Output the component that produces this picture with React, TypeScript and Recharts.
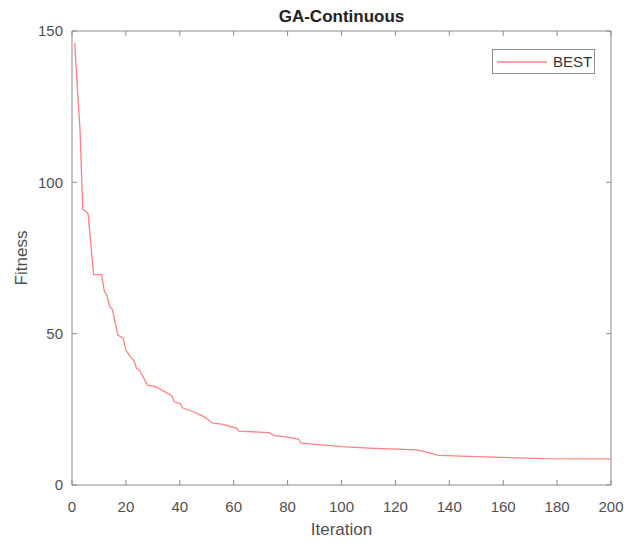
import { LineChart, Line, XAxis, YAxis, Legend } from 'recharts'

const iterations = [
  1, 2, 3, 4, 5, 6, 8, 11, 12, 13, 14, 15, 17, 19, 20, 22, 23, 24, 25, 28, 31, 34, 37, 38, 40,
  41, 45, 48, 50, 52, 56, 61, 62, 73, 75, 79, 80, 84, 85, 100, 110, 128, 132, 136, 159, 175, 200,
]
const bestFitness = [
  146, 131, 117, 91, 90.5, 89.5, 69.5, 69.5, 64, 62.5, 59, 58, 49.5, 48.5, 44.5, 42, 41, 38.5, 38,
  33, 32.5, 31, 29.5, 27.5, 27, 25.5, 24.2, 23, 22, 20.5, 20, 18.8, 17.8, 17.3, 16.3, 16, 15.8,
  15.2, 13.8, 12.7, 12.2, 11.6, 10.8, 9.8, 9.1, 8.7, 8.6,
]
const xTicks = [0, 20, 40, 60, 80, 100, 120, 140, 160, 180, 200]
const yTicks = [0, 50, 100, 150]

const data = iterations.map((it, i) => ({ iteration: it, best: bestFitness[i] }))

const frame = '#8c8c8c'
const font = '"Liberation Sans", Arial, sans-serif'
const tickText = { fontSize: 15, fill: '#505050', fontFamily: font }
const lineColor = '#ff8080'
const axisLine = { stroke: frame, strokeWidth: 1 }
const tickLine = { stroke: frame, strokeWidth: 1 }

const LegendBox = () => (
  <div
    style={{
      width: 101,
      height: 23,
      border: `1px solid ${frame}`,
      background: '#fff',
      display: 'flex',
      alignItems: 'center',
      fontFamily: font,
      fontSize: 15,
      color: '#333',
    }}
  >
    <svg width={56} height={4} style={{ marginLeft: 4 }}>
      <line x1={0} y1={2} x2={50} y2={2} stroke={lineColor} strokeWidth={1.3} />
    </svg>
    <span>BEST</span>
  </div>
)

export default function App() {
  return (
    <div style={{ position: 'absolute', left: 0, top: 0, background: '#fff' }}>
      <LineChart
        width={627}
        height={543}
        data={data}
        margin={{ top: 30, right: 15, left: 8, bottom: 28 }}
      >
        <XAxis
          dataKey="iteration"
          type="number"
          domain={[0, 200]}
          ticks={xTicks}
          allowDataOverflow
          height={30}
          axisLine={axisLine}
          tickLine={tickLine}
          tickSize={-5}
          tickMargin={21}
          tick={tickText}
          label={{
            value: 'Iteration',
            position: 'bottom',
            offset: 8,
            style: { fontSize: 17, fill: '#505050', fontFamily: font },
          }}
        />
        <XAxis
          xAxisId="top"
          dataKey="iteration"
          orientation="top"
          type="number"
          domain={[0, 200]}
          ticks={xTicks}
          allowDataOverflow
          height={1}
          axisLine={axisLine}
          tickLine={tickLine}
          tickSize={-5}
          tickFormatter={() => ''}
          label={{
            value: 'GA-Continuous',
            position: 'top',
            offset: 8,
            style: { fontSize: 17, fontWeight: 'bold', fill: '#222', fontFamily: font },
          }}
        />
        <YAxis
          type="number"
          domain={[0, 150]}
          ticks={yTicks}
          allowDataOverflow
          width={64}
          axisLine={axisLine}
          tickLine={tickLine}
          tickSize={-5}
          tickMargin={14}
          tick={tickText}
          label={{
            value: 'Fitness',
            angle: -90,
            position: 'insideLeft',
            offset: 13,
            style: { textAnchor: 'middle', fontSize: 17, fill: '#505050', fontFamily: font },
          }}
        />
        <YAxis
          yAxisId="right"
          orientation="right"
          type="number"
          domain={[0, 150]}
          ticks={yTicks}
          allowDataOverflow
          width={1}
          axisLine={axisLine}
          tickLine={tickLine}
          tickSize={-5}
          tickFormatter={() => ''}
        />
        <Legend
          layout="horizontal"
          verticalAlign="middle"
          align="center"
          content={<LegendBox />}
          wrapperStyle={{ top: 49, left: 492, right: 'auto', bottom: 'auto', width: 103 }}
        />
        <Line
          type="linear"
          dataKey="best"
          name="BEST"
          stroke={lineColor}
          strokeWidth={1.3}
          dot={false}
          isAnimationActive={false}
        />
      </LineChart>
    </div>
  )
}
